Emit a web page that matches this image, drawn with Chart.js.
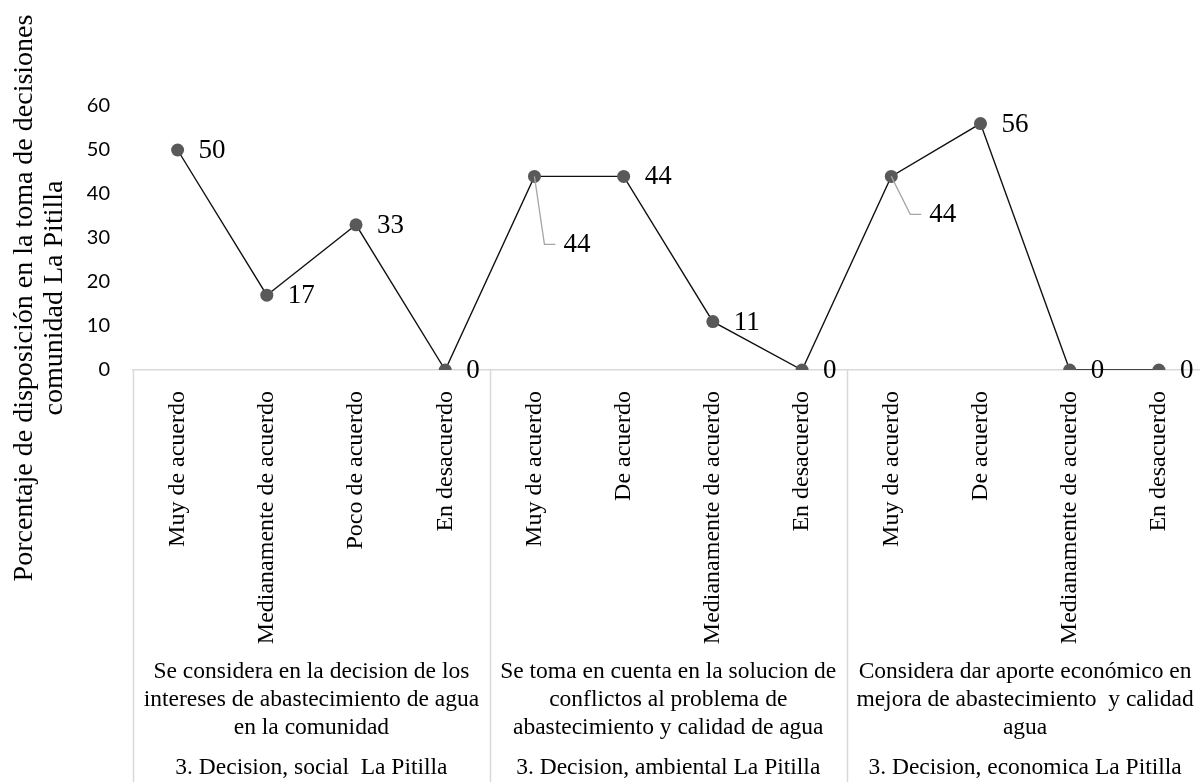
<!DOCTYPE html>
<html>
<head>
<meta charset="utf-8">
<script src="https://cdn.jsdelivr.net/npm/chart.js@4.4.0/dist/chart.umd.min.js"></script>
<style>
  html, body { margin: 0; padding: 0; background: #fff; overflow: hidden; }
  #wrap { width: 1210px; height: 782px; position: relative; }
</style>
</head>
<body>
<div id="wrap"><canvas id="chart"></canvas></div>
<script>
// categories (first level) and the values of the single series
const categories = [
  'Muy de acuerdo', 'Medianamente de acuerdo', 'Poco de acuerdo', 'En desacuerdo',
  'Muy de acuerdo', 'De acuerdo', 'Medianamente de acuerdo', 'En desacuerdo',
  'Muy de acuerdo', 'De acuerdo', 'Medianamente de acuerdo', 'En desacuerdo'
];
const values = [50, 17, 33, 0, 44, 44, 11, 0, 44, 56, 0, 0];

// second and third level of the category axis
const questionLabels = [
  ['Se considera en la decision de los', 'intereses de abastecimiento de agua', 'en la comunidad'],
  ['Se toma en cuenta en la solucion de', 'conflictos al problema de', 'abastecimiento y calidad de agua'],
  ['Considera dar aporte económico en', 'mejora de abastecimiento  y calidad', 'agua']
];
const dimensionLabels = ['3. Decision, social  La Pitilla', '3. Decision, ambiental La Pitilla', '3. Decision, economica La Pitilla'];
const groupSize = 4;

const yMin = 0, yMax = 60, yStep = 10;
const yTitle = ['Porcentaje de disposición en la toma de decisiones', 'comunidad La Pitilla'];

const SERIF = '"Liberation Serif", "Times New Roman", serif';

// labels that Excel pulled away from the point with a leader line
const movedLabels = { 4: [29, 69], 8: [38, 39] };

const dataLabels = {
  id: 'dataLabels',
  afterDatasetsDraw(chart) {
    const ctx = chart.ctx;
    const meta = chart.getDatasetMeta(0);
    ctx.save();
    ctx.font = '27px ' + SERIF;
    ctx.textAlign = 'left';
    ctx.textBaseline = 'middle';
    meta.data.forEach((pt, i) => {
      let lx = pt.x + 21, ly = pt.y + 1;
      if (movedLabels[i]) {
        lx = pt.x + movedLabels[i][0];
        ly = pt.y + movedLabels[i][1];
        ctx.strokeStyle = '#a6a6a6';
        ctx.lineWidth = 1.3;
        ctx.beginPath();
        ctx.moveTo(pt.x, pt.y);
        ctx.lineTo(lx - 19, ly - 1);
        ctx.lineTo(lx - 8, ly - 1);
        ctx.stroke();
      }
      ctx.fillStyle = '#000';
      ctx.fillText(String(values[i]), lx, ly);
    });
    ctx.restore();
  }
};

const decor = {
  id: 'decor',
  afterDraw(chart) {
    const ctx = chart.ctx;
    const area = chart.chartArea;
    const x = chart.scales.x;
    const band = x.getPixelForValue(1) - x.getPixelForValue(0);
    ctx.save();

    // group dividers of the multi-level axis
    ctx.strokeStyle = '#d9d9d9';
    ctx.lineWidth = 1.5;
    for (let g = 0; g <= questionLabels.length; g++) {
      const px = Math.round(x.getPixelForValue(g * groupSize) - band / 2) + 0.5;
      ctx.beginPath();
      ctx.moveTo(px, area.bottom);
      ctx.lineTo(px, chart.height);
      ctx.stroke();
    }

    // group texts
    ctx.fillStyle = '#000';
    ctx.textAlign = 'center';
    ctx.textBaseline = 'middle';
    ctx.font = '23.5px ' + SERIF;
    questionLabels.forEach((lines, g) => {
      const cx = (x.getPixelForValue(g * groupSize) + x.getPixelForValue(g * groupSize + groupSize - 1)) / 2;
      lines.forEach((line, k) => ctx.fillText(line, cx, 672 + k * 28));
      ctx.fillText(dimensionLabels[g], cx, 768);
    });

    // y axis title, two lines
    const cy = 298;
    ctx.font = '28px ' + SERIF;
    ctx.textBaseline = 'alphabetic';
    [32, 62].forEach((bx, k) => {
      ctx.save();
      ctx.translate(bx, cy);
      ctx.rotate(-Math.PI / 2);
      ctx.fillText(yTitle[k], 0, 0);
      ctx.restore();
    });
    ctx.restore();
  }
};

const ctx = document.getElementById('chart').getContext('2d');
new Chart(ctx, {
  type: 'line',
  data: {
    labels: categories,
    datasets: [{
      data: values,
      borderColor: '#111',
      borderWidth: 1.4,
      tension: 0,
      pointRadius: 6.5,
      pointHoverRadius: 6.5,
      pointBorderWidth: 0,
      pointBackgroundColor: '#595959',
      pointBorderColor: '#595959',
      fill: false
    }]
  },
  options: {
    responsive: true,
    maintainAspectRatio: false,
    animation: false,
    devicePixelRatio: 1,
    layout: { padding: { top: 106, right: 3, bottom: 0, left: 0 } },
    plugins: {
      legend: { display: false },
      tooltip: { enabled: false },
      title: { display: false }
    },
    scales: {
      x: {
        type: 'category',
        offset: true,
        grid: { display: false, drawTicks: false },
        border: { display: true, color: '#d9d9d9', width: 1.5 },
        ticks: {
          autoSkip: false,
          minRotation: 90,
          maxRotation: 90,
          padding: 21,
          color: '#000',
          font: { family: SERIF, size: 24 }
        },
        afterFit: function(scale) { scale.height = 412; }
      },
      y: {
        min: yMin,
        max: yMax,
        grid: { display: false, drawTicks: false },
        border: { display: false },
        ticks: {
          stepSize: yStep,
          padding: 23,
          color: '#000',
          font: { family: 'Lato', size: 20 }
        },
        afterFit: function(scale) { scale.width = 133; }
      }
    }
  },
  plugins: [dataLabels, decor]
});
</script>
</body>
</html>
